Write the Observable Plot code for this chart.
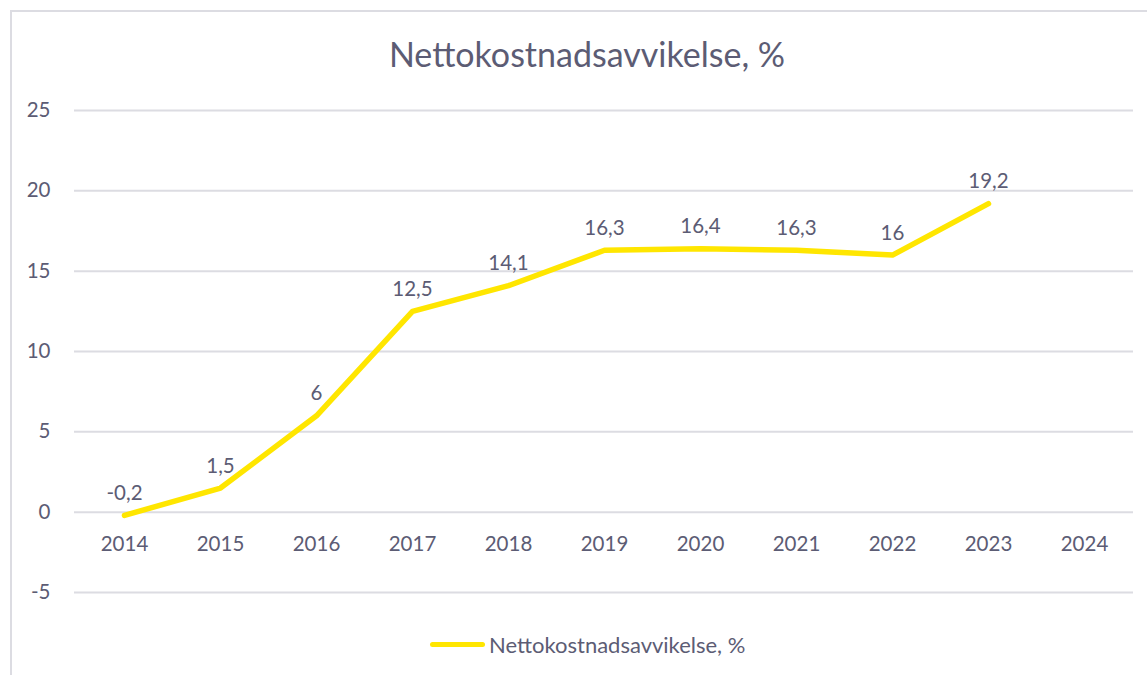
<!DOCTYPE html>
<html>
<head>
<meta charset="utf-8">
<script src="https://cdn.jsdelivr.net/npm/d3@7"></script>
<script src="https://cdn.jsdelivr.net/npm/@observablehq/plot@0.6"></script>
<style>
  html, body { margin: 0; padding: 0; background: #fff; }
  #wrap { position: relative; width: 1147px; height: 675px; overflow: hidden; font-family: Lato, "Open Sans", sans-serif; color: #5c5c74; }
  #frame { position: absolute; left: 10px; top: 10px; width: 1200px; height: 700px; border-left: 2px solid #dcdce2; border-top: 2px solid #dcdce2; }
  #title { position: absolute; left: 0; top: 34px; width: 1174px; text-align: center; font-size: 34px; line-height: 40px; }
  #chart { position: absolute; left: 0; top: 90px; }
  #legend { position: absolute; left: 430px; top: 630px; height: 28px; display: flex; align-items: center; font-size: 22px; }
  #legend .sw { width: 55px; height: 5px; border-radius: 3px; background: #ffe600; margin-right: 4px; }
</style>
</head>
<body>
<div id="wrap">
  <div id="frame"></div>
  <div id="title">Nettokostnadsavvikelse, %</div>
  <div id="chart"></div>
  <div id="legend"><span class="sw"></span><span>Nettokostnadsavvikelse, %</span></div>
</div>
<script>
const years = ["2014","2015","2016","2017","2018","2019","2020","2021","2022","2023","2024"];
const values = [-0.2, 1.5, 6, 12.5, 14.1, 16.3, 16.4, 16.3, 16, 19.2, null];
const yTicks = [-5, 0, 5, 10, 15, 20, 25];

const data = years.map((y, i) => ({year: y, value: values[i]}));
const pts = data.filter(d => d.value != null);
const fmt = v => String(v).replace(".", ",");
const textColor = "#5c5c74";

const chart = Plot.plot({
  width: 1147,
  height: 520,
  marginTop: 20,
  marginBottom: 18,
  marginLeft: 74,
  marginRight: 14,
  style: {fontFamily: "Lato, 'Open Sans', sans-serif", fontSize: "20px", color: textColor, background: "transparent"},
  x: {domain: years, type: "point", padding: 0.5, axis: null},
  y: {domain: [-5, 25], ticks: yTicks, label: null},
  marks: [
    Plot.ruleY(yTicks, {stroke: "#dcdce2", strokeWidth: 2, strokeOpacity: 1}),
    Plot.axisY({ticks: yTicks, tickSize: 0, tickPadding: 24, label: null, fontSize: 20.5, fill: textColor, tickFormat: d => String(d).replace("−","-")}),
    Plot.text(years, {x: d => d, y: () => 0, dy: 32, text: d => d, fill: textColor, fontSize: 20.5}),
    Plot.line(pts, {x: "year", y: "value", stroke: "#ffe600", strokeWidth: 5.5, strokeLinecap: "round", strokeLinejoin: "round"}),
    Plot.text(pts, {x: "year", y: "value", text: d => fmt(d.value), dy: -22, fill: textColor, fontSize: 20.5})
  ]
});
document.getElementById("chart").appendChild(chart);
</script>
</body>
</html>
